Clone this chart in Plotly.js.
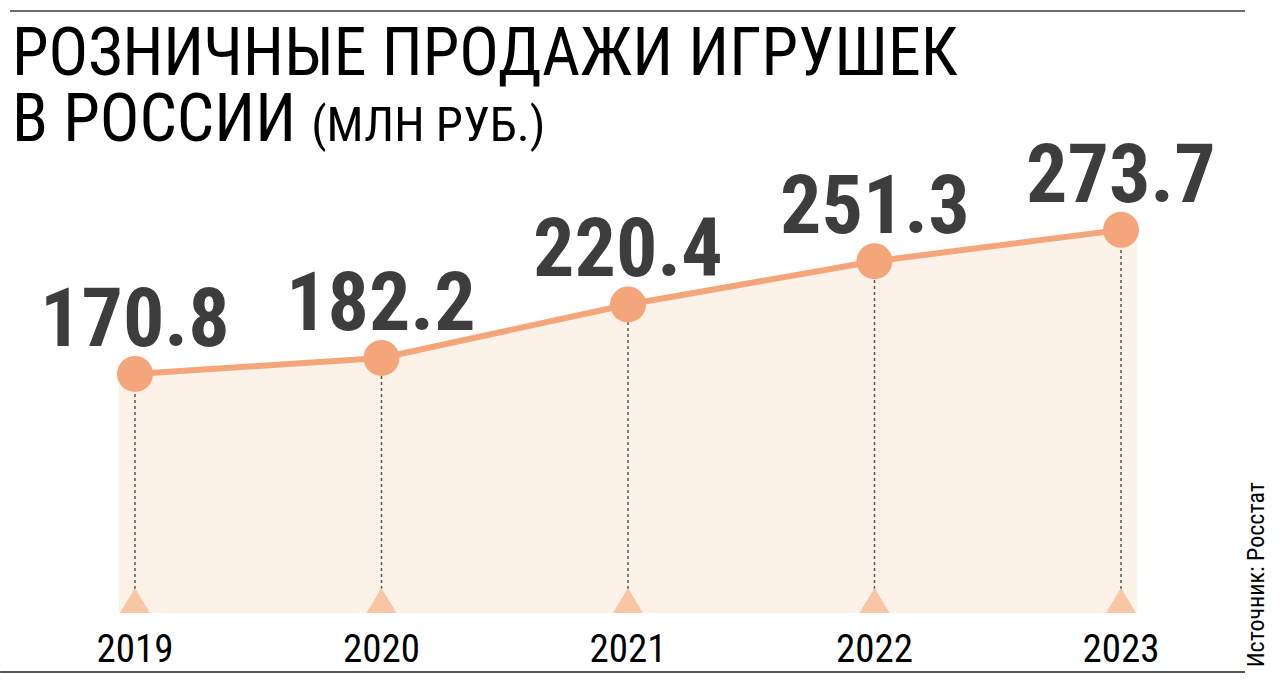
<!DOCTYPE html>
<html><head><meta charset="utf-8">
<script src="https://cdn.plot.ly/plotly-3.0.1.min.js"></script>
<style>html,body{margin:0;padding:0;background:#fff;}#chart{width:1280px;height:687px;}</style>
</head><body><div id="chart"></div>
<script>
const years = [2019, 2020, 2021, 2022, 2023];
const values = [170.8, 182.2, 220.4, 251.3, 273.7];
const valueLabels = ["170.8", "182.2", "220.4", "251.3", "273.7"];
const yearLabels = ["2019", "2020", "2021", "2022", "2023"];
const titleLine1 = "РОЗНИЧНЫЕ ПРОДАЖИ ИГРУШЕК";
const titleLine2 = "В РОССИИ";
const titleUnit = "(МЛН РУБ.)";
const sourceText = "Источник: Росстат";

const NARROW = '"Liberation Sans Narrow", "Roboto Condensed", "DejaVu Sans Condensed", Arial, sans-serif';
const lineColor = '#f4a67a';
const fillColor = '#fdf2e8';
const triColor = '#f8c5a5';

const pad = 0.065;
const fillX = [years[0] - pad].concat(years, [years[years.length - 1] + pad]);
const fillY = [values[0]].concat(values, [values[values.length - 1]]);

const dotX = [], dotY = [];
years.forEach((yr, i) => { dotX.push(yr, yr, null); dotY.push(0, values[i], null); });

const traces = [
  {x: fillX, y: fillY, type: 'scatter', mode: 'none', fill: 'tozeroy', fillcolor: fillColor, hoverinfo: 'skip', showlegend: false},
  {x: dotX, y: dotY, type: 'scatter', mode: 'lines', line: {color: '#555', width: 1.5, dash: 'dot'}, hoverinfo: 'skip', showlegend: false},
  {x: years, y: values, type: 'scatter', mode: 'lines+markers', line: {color: lineColor, width: 6}, marker: {color: lineColor, size: 36}, showlegend: false}
];

const shapes = years.map(yr => ({
  type: 'path', xref: 'x', yref: 'y', xsizemode: 'pixel', ysizemode: 'pixel',
  xanchor: yr, yanchor: 0, path: 'M -15,0 L 15,0 L 0,25 Z',
  fillcolor: triColor, line: {width: 0}, layer: 'above'
}));
shapes.push({type: 'line', xref: 'paper', yref: 'paper', x0: 0, x1: 1, y0: 1.2727, y1: 1.2727, line: {color: '#6b6b6b', width: 2}});
shapes.push({type: 'line', xref: 'paper', yref: 'paper', x0: -0.008, x1: 1, y0: -0.1247, y1: -0.1247, line: {color: '#555', width: 2}});

const annotations = years.map((yr, i) => ({
  x: yr, y: values[i], xref: 'x', yref: 'y', text: valueLabels[i], showarrow: false,
  yanchor: 'bottom', xanchor: 'center', yshift: 6,
  font: {family: NARROW, size: 82, color: '#3d3d3d', weight: 'bold'}
}));
annotations.push({
  xref: 'paper', yref: 'paper', x: 0, y: 1.099, xanchor: 'left', yanchor: 'bottom', xshift: 0,
  text: titleLine1, showarrow: false, font: {family: NARROW, size: 66, color: '#000'}
});
annotations.push({
  xref: 'paper', yref: 'paper', x: 0, y: 0.959, xanchor: 'left', yanchor: 'bottom',
  text: titleLine2 + ' <span style="font-size:49px">' + titleUnit + '</span>', showarrow: false,
  font: {family: NARROW, size: 66, color: '#000'}
});
annotations.push({
  xref: 'paper', yref: 'paper', x: 1, y: -0.12, xanchor: 'left', yanchor: 'bottom', xshift: -5,
  text: sourceText, textangle: -90, showarrow: false, font: {family: NARROW, size: 24, color: '#000'}
});

const layout = {
  width: 1280, height: 687,
  margin: {l: 10, r: 35, t: 140, b: 74},
  paper_bgcolor: '#fff', plot_bgcolor: 'rgba(0,0,0,0)',
  xaxis: {range: [2018.493, 2023.503], tickvals: years, ticktext: yearLabels, showgrid: false, zeroline: false, showline: false,
          ticks: '', ticklabelstandoff: 9, tickfont: {family: NARROW, size: 39, color: '#000'}, fixedrange: true},
  yaxis: {range: [0, 337.9], showgrid: false, zeroline: false, showline: false, showticklabels: false, fixedrange: true},
  shapes: shapes, annotations: annotations, showlegend: false
};
Plotly.newPlot('chart', traces, layout, {displayModeBar: false, staticPlot: true});
</script></body></html>
